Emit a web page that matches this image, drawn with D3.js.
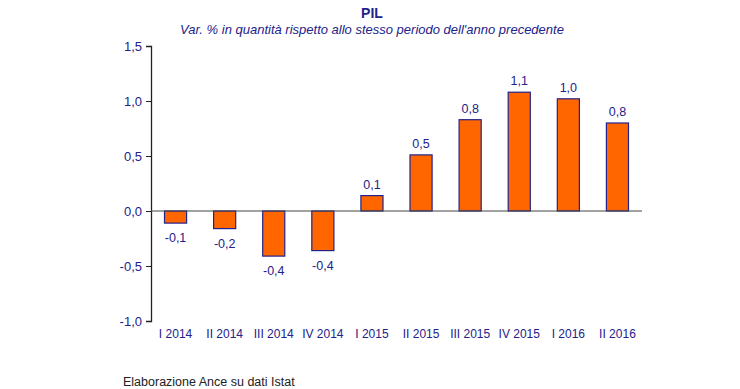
<!DOCTYPE html>
<html><head><meta charset="utf-8">
<script src="https://cdn.jsdelivr.net/npm/d3@7"></script>
<style>body{margin:0;background:#fff;} text{font-family:"Liberation Sans",Arial,sans-serif;}</style>
</head><body>
<svg id="c" width="740" height="389"></svg>
<script>
const categories = ["I 2014","II 2014","III 2014","IV 2014","I 2015","II 2015","III 2015","IV 2015","I 2016","II 2016"];
const values = [-0.11, -0.16, -0.41, -0.36, 0.14, 0.51, 0.83, 1.08, 1.02, 0.80];
const valueLabels = ["-0,1","-0,2","-0,4","-0,4","0,1","0,5","0,8","1,1","1,0","0,8"];
const yTicks = [-1.0, -0.5, 0.0, 0.5, 1.0, 1.5];
const yTickLabels = ["-1,0","-0,5","0,0","0,5","1,0","1,5"];

const svg = d3.select("#c");
const navy = "#22228a";
const x = d3.scaleBand().domain(categories).range([151, 642]).paddingInner(0.55).paddingOuter(0.275);
const y = d3.scaleLinear().domain([-1, 1.5]).range([321, 46]);

svg.append("text").attr("x", 372).attr("y", 18).attr("text-anchor","middle")
  .attr("font-size", 14).attr("font-weight","bold").attr("fill", navy).text("PIL");
svg.append("text").attr("x", 372).attr("y", 34).attr("text-anchor","middle")
  .attr("font-size", 13).attr("font-style","italic").attr("fill", navy)
  .text("Var. % in quantità rispetto allo stesso periodo dell'anno precedente");

const yAxis = d3.axisLeft(y).tickValues(yTicks).tickSize(5).tickPadding(4)
  .tickFormat((d,i)=>yTickLabels[yTicks.indexOf(d)]);
const gy = svg.append("g").attr("transform","translate(151,0)").call(yAxis);
gy.select(".domain").attr("stroke","#222").attr("stroke-width",1.3);
gy.selectAll(".tick line").attr("stroke","#222");
gy.selectAll(".tick text").attr("fill", navy).attr("font-size",13).attr("font-family","Liberation Sans, Arial, sans-serif");

svg.append("g").selectAll("rect").data(values).join("rect")
  .attr("x",(d,i)=>x(categories[i])).attr("width",x.bandwidth())
  .attr("y",d=>y(Math.max(0,d))).attr("height",d=>Math.abs(y(d)-y(0)))
  .attr("fill","#ff6600").attr("stroke",navy).attr("stroke-width",1.2);

svg.append("line").attr("x1",151).attr("x2",642).attr("y1",y(0)).attr("y2",y(0))
  .attr("stroke","#444").attr("stroke-width",1);

svg.append("g").selectAll("text").data(values).join("text")
  .attr("x",(d,i)=>x(categories[i])+x.bandwidth()/2)
  .attr("y",d=> d>=0 ? y(d)-7 : y(d)+19)
  .attr("text-anchor","middle").attr("font-size",12.5).attr("fill",navy)
  .text((d,i)=>valueLabels[i]);

const xAxis = d3.axisBottom(x).tickSize(0).tickPadding(0);
const gx = svg.append("g").attr("transform","translate(0,329)").call(xAxis);
gx.select(".domain").remove();
gx.selectAll(".tick text").attr("fill", navy).attr("font-size",12).attr("font-family","Liberation Sans, Arial, sans-serif");

svg.append("text").attr("x",123).attr("y",386).attr("font-size",12.5).attr("fill","#222")
  .text("Elaborazione Ance su dati Istat");
</script>
</body></html>
